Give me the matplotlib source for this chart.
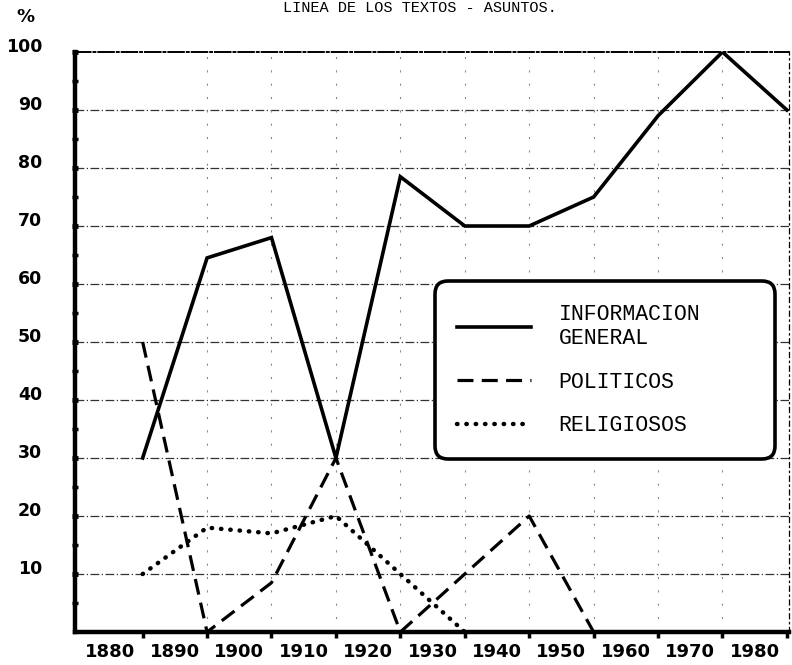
import numpy as np
import matplotlib
matplotlib.use('Agg')
from matplotlib import pyplot as plt

# decade mid-points where the values are plotted
years = [1885, 1895, 1905, 1915, 1925, 1935, 1945, 1955, 1965, 1975, 1985]
info_general = [30, 64.5, 68, 30, 78.5, 70, 70, 75, 89, 100, 90]
politicos_years = [1885, 1895, 1905, 1915, 1925, 1935, 1945, 1955]
politicos = [50, 0, 8.5, 30, 0, 10, 20, 0]
religiosos_years = [1885, 1895, 1905, 1915, 1925, 1935]
religiosos = [10, 18, 17, 20, 10, 0]

decade_labels = [1880, 1890, 1900, 1910, 1920, 1930, 1940, 1950, 1960, 1970, 1980]
y_ticks = [10, 20, 30, 40, 50, 60, 70, 80, 90, 100]
labels = ['INFORMACION\nGENERAL', 'POLITICOS', 'RELIGIOSOS']

tick_font = 'DejaVu Sans'
type_font = ['Liberation Mono', 'DejaVu Sans Mono']

fig = plt.figure(figsize=(7.92, 6.65), dpi=100)
ax = fig.add_axes([0.0947, 0.0496, 0.9013, 0.8722])

# faint grid
for yv in y_ticks[:-1]:
    ax.axhline(yv, color='0.2', lw=0.9, ls=(0, (7, 2, 1, 2)), zorder=1)
for xv in years[1:-1]:
    ax.axvline(xv, color='0.55', lw=0.8, ls=(0, (2, 10)), zorder=1)

l1, = ax.plot(years, info_general, color='black', lw=2.6, solid_joinstyle='miter', zorder=3)
l2, = ax.plot(politicos_years, politicos, color='black', lw=2.3, ls=(0, (5, 2.6)), zorder=3)
l3, = ax.plot(religiosos_years, religiosos, color='black', lw=3.2, ls=(0, (0.1, 2.0)),
              dash_capstyle='round', zorder=3)

ax.set_xlim(1874.5, 1985.3)
ax.set_ylim(0, 100)

# spines
for side in ['left', 'bottom']:
    ax.spines[side].set_linewidth(3.2)
ax.spines['top'].set_linewidth(1.4)
ax.spines['top'].set_linestyle((0, (8, 1.5, 1, 1.5)))
ax.spines['right'].set_linewidth(0.9)
ax.spines['right'].set_linestyle((0, (4, 3, 1, 3)))

# x: tick marks at the plotted points, labels at the decades
ax.set_xticks(years)
ax.set_xticklabels([])
ax.tick_params(axis='x', which='major', direction='out', length=4, width=2.5)
ax.set_xticks(decade_labels, minor=True)
ax.set_xticklabels([str(d) for d in decade_labels], minor=True,
                   fontsize=13, fontweight='bold', family=tick_font)
ax.tick_params(axis='x', which='minor', length=0, pad=8)

# y: dots on the axis every 5, labels every 10
ax.set_yticks(y_ticks)
ax.set_yticklabels([str(v) for v in y_ticks], fontsize=12.5, fontweight='bold', family=tick_font)
ax.set_yticks(np.arange(5, 100, 10), minor=True)
ax.tick_params(axis='y', which='major', direction='inout', length=5, width=3.5, pad=21)
ax.tick_params(axis='y', which='minor', direction='inout', length=4, width=2.5)
for lab in ax.get_yticklabels():
    lab.set_va('baseline')

ax.text(-0.07, 1.06, '%', transform=ax.transAxes, fontsize=13, fontweight='bold',
        family=tick_font, ha='center', va='center')

fig.text(0.53, 0.999, 'LINEA DE LOS TEXTOS - ASUNTOS.', ha='center', va='top',
         fontsize=11, family=type_font)

leg = ax.legend([l1, l2, l3], labels, loc='upper left',
                bbox_to_anchor=(0.504, 0.30, 0.476, 0.305), mode='expand',
                borderaxespad=0, frameon=True, fancybox=True, handlelength=3.4,
                handletextpad=1.3, labelspacing=1.05, borderpad=1.05,
                prop={'family': type_font, 'size': 15.5})
frame = leg.get_frame()
frame.set_edgecolor('black')
frame.set_linewidth(2.6)
frame.set_facecolor('white')
frame.set_alpha(1)
frame.set_boxstyle('round', pad=0, rounding_size=0.6)
leg.set_zorder(5)

fig.savefig('out.png', dpi=100)
